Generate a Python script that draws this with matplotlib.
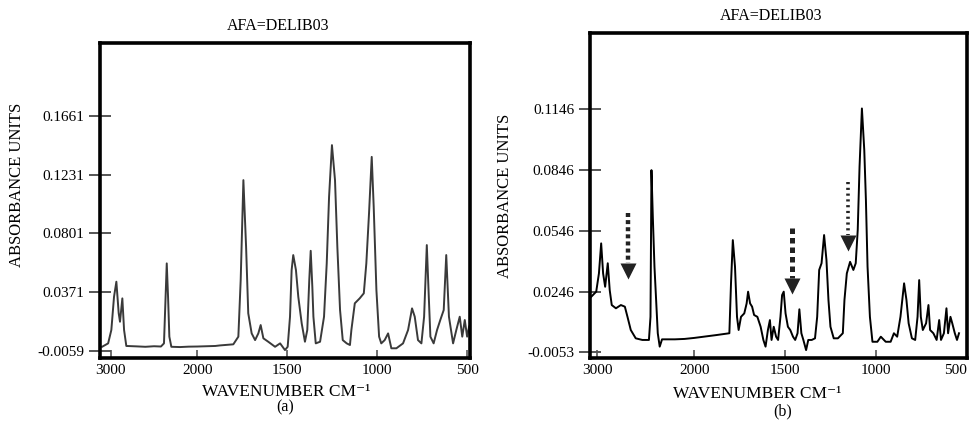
"""
Two FTIR absorbance spectra, AFA=DELIB03, panels (a) and (b)
"""
import numpy as np
import matplotlib
matplotlib.use("Agg")
import matplotlib.pyplot as plt

plt.rcParams["font.family"] = ["Liberation Serif", "DejaVu Serif"]

# %%
# Spectrum (a)
wn_a = [3100, 3030, 2993, 2962, 2935, 2908, 2893, 2866, 2846, 2820, 2700, 2600,
        2500, 2420, 2385, 2353, 2338, 2323, 2300, 2200, 2100, 2000, 1900, 1874,
        1800, 1772, 1759, 1744, 1729, 1717, 1698, 1679, 1661, 1648, 1633, 1606,
        1568, 1540, 1513, 1498, 1485, 1476, 1467, 1452, 1439, 1420, 1402, 1389,
        1378, 1370, 1361, 1355, 1342, 1318, 1296, 1281, 1268, 1252, 1235, 1222,
        1207, 1192, 1170, 1152, 1144, 1125, 1098, 1075, 1061, 1046, 1031, 1020,
        1005, 990, 978, 959, 940, 922, 894, 857, 829, 807, 792, 774, 755, 740,
        725, 714, 705, 687, 668, 650, 631, 617, 602, 579, 561, 542, 528, 514,
        501, 490]
abs_a = [-0.0028, -0.0003, 0.0095, 0.0338, 0.0448, 0.0217, 0.0155, 0.0326, 0.0095,
         -0.0022, -0.0025, -0.0028, -0.0024, -0.0026, -0.0003, 0.0582, 0.0338,
         0.0046, -0.0028, -0.0030, -0.0027, -0.0026, -0.0022, -0.0018, -0.0010,
         0.0046, 0.0460, 0.1191, 0.0703, 0.0217, 0.0070, 0.0021, 0.0070, 0.0131,
         0.0034, 0.0009, -0.0028, -0.0003, -0.0052, -0.0028, 0.0192, 0.0533,
         0.0643, 0.0533, 0.0338, 0.0143, 0.0009, 0.0095, 0.0460, 0.0674, 0.0411,
         0.0192, -0.0003, 0.0009, 0.0192, 0.0582, 0.1069, 0.1447, 0.1191, 0.0703,
         0.0241, 0.0021, -0.0003, -0.0015, 0.0095, 0.0290, 0.0326, 0.0363, 0.0582,
         0.0948, 0.1361, 0.0996, 0.0387, 0.0046, -0.0003, 0.0021, 0.0070, -0.0039,
         -0.0039, -0.0003, 0.0095, 0.0253, 0.0192, 0.0021, -0.0003, 0.0192, 0.0716,
         0.0338, 0.0046, -0.0003, 0.0095, 0.0168, 0.0241, 0.0643, 0.0192, -0.0003,
         0.0095, 0.0192, 0.0046, 0.0168, 0.0046, 0.0120]

# Spectrum (b)
wn_b = [3061, 3010, 2982, 2959, 2939, 2918, 2891, 2871, 2850, 2807, 2756, 2715,
        2688, 2654, 2603, 2535, 2467, 2451, 2441, 2427, 2410, 2393, 2376, 2356,
        2332, 2200, 2100, 2000, 1879, 1807, 1798, 1788, 1776, 1765, 1756, 1743,
        1725, 1712, 1704, 1693, 1682, 1671, 1653, 1635, 1620, 1608, 1595, 1584,
        1575, 1563, 1550, 1539, 1526, 1517, 1508, 1498, 1485, 1472, 1457, 1445,
        1432, 1422, 1411, 1400, 1385, 1373, 1354, 1336, 1324, 1313, 1300, 1286,
        1273, 1262, 1251, 1233, 1210, 1183, 1174, 1161, 1143, 1125, 1112, 1101,
        1091, 1078, 1065, 1056, 1047, 1034, 1020, 993, 974, 947, 920, 902, 884,
        866, 846, 833, 821, 803, 785, 772, 763, 754, 743, 725, 712, 703, 685,
        667, 653, 643, 627, 613, 604, 591, 581, 567, 555, 544]
abs_b = [0.0221, 0.0246, 0.0336, 0.0484, 0.0336, 0.0270, 0.0386, 0.0254, 0.0180,
         0.0164, 0.0180, 0.0172, 0.0122, 0.0057, 0.0016, 0.0008, 0.0008, 0.0122,
         0.0845, 0.0615, 0.0369, 0.0205, 0.0041, -0.0025, 0.0011, 0.0011, 0.0013,
         0.0018, 0.0032, 0.0041, 0.0287, 0.0500, 0.0369, 0.0122, 0.0057, 0.0122,
         0.0139, 0.0188, 0.0246, 0.0188, 0.0172, 0.0131, 0.0122, 0.0073, 0.0008,
         -0.0025, 0.0057, 0.0106, 0.0008, 0.0073, 0.0024, 0.0008, 0.0122, 0.0229,
         0.0246, 0.0139, 0.0073, 0.0057, 0.0024, 0.0008, 0.0041, 0.0159, 0.0041,
         0.0008, -0.0042, 0.0008, 0.0008, 0.0016, 0.0122, 0.0353, 0.0386, 0.0525,
         0.0402, 0.0205, 0.0073, 0.0016, 0.0016, 0.0041, 0.0205, 0.0336, 0.0393,
         0.0353, 0.0386, 0.0550, 0.0862, 0.1149, 0.0944, 0.0698, 0.0369, 0.0122,
         -0.0001, -0.0001, 0.0024, -0.0001, -0.0001, 0.0041, 0.0024, 0.0122,
         0.0287, 0.0205, 0.0090, 0.0016, 0.0008, 0.0122, 0.0303, 0.0122, 0.0057,
         0.0090, 0.0180, 0.0057, 0.0041, 0.0008, 0.0106, 0.0008, 0.0041, 0.0164,
         0.0041, 0.0122, 0.0090, 0.0041, 0.0008, 0.0041]

xticks = [3000, 2000, 1500, 1000, 500]
yticks_a = [-0.0059, 0.0371, 0.0801, 0.1231, 0.1661]
yticks_b = [-0.0053, 0.0246, 0.0546, 0.0846, 0.1146]

# Dashed arrows in (b): position, top of the shaft, base of the head, tip
arrow_wn = [2681, 1463, 1156]
arrow_top = [0.0633, 0.0558, 0.0788]
arrow_base = [0.0387, 0.0312, 0.0525]
arrow_tip = [0.0313, 0.0238, 0.0451]
arrow_ls = [(0, (0.9, 0.7)), (0, (1.1, 0.8)), (0, (0.6, 1.0))]
arrow_lw = [3.2, 3.6, 2.6]


# %%
# FTIR-style axis: range above 2000 cm-1 is compressed
def split_scale(k):
    def fwd(x):
        x = np.asarray(x, dtype=float)
        return np.where(x > 2000, 2000 + (x - 2000) * k, x)

    def inv(c):
        c = np.asarray(c, dtype=float)
        return np.where(c > 2000, 2000 + (c - 2000) / k, c)

    return fwd, inv


def style_axes(ax, k, xlim, ylim, yticks):
    ax.set_xscale("function", functions=split_scale(k))
    ax.set_xlim(*xlim)
    ax.set_ylim(*ylim)
    ax.set_xticks(xticks)
    ax.set_xticklabels([str(t) for t in xticks])
    ax.set_yticks(yticks)
    ax.set_yticklabels([f"{t:.4f}" for t in yticks])
    ax.minorticks_off()
    for s in ax.spines.values():
        s.set_linewidth(2.6)
        s.set_color("black")
    ax.tick_params(axis="y", direction="inout", length=16, width=1.4,
                   color="#555555", pad=3, labelsize=11)
    ax.tick_params(axis="x", direction="in", length=6, width=1.2,
                   color="#555555", pad=4, labelsize=11)
    ax.set_title("AFA=DELIB03", fontsize=11.5, x=0.48, pad=9)
    ax.set_ylabel("ABSORBANCE UNITS", fontsize=12)
    ax.set_xlabel("WAVENUMBER CM\u207b\u00b9", fontsize=12.5, va="top")


fig = plt.figure(figsize=(9.76, 4.26), dpi=100)

ax_a = fig.add_axes([100 / 976, 68 / 426, 370 / 976, 315 / 426])
ax_a.plot(wn_a, abs_a, color="#3a3a3a", lw=1.4)
style_axes(ax_a, 0.481, (3124, 485), (-0.011, 0.2194), yticks_a)
ax_a.yaxis.set_label_coords(-0.203, 0.551)
ax_a.xaxis.set_label_coords(0.503, -0.083)

ax_b = fig.add_axes([590 / 976, 68 / 426, 377 / 976, 325 / 426])
ax_b.plot(wn_b, abs_b, color="black", lw=1.4)
style_axes(ax_b, 0.534, (3074, 538), (-0.0081, 0.1521), yticks_b)
ax_b.yaxis.set_label_coords(-0.204, 0.498)
ax_b.xaxis.set_label_coords(0.444, -0.086)
# the last label sits against the figure edge
ax_b.get_xticklabels()[-1].set_horizontalalignment("right")

for x, y0, y1, y2, ls, lw in zip(arrow_wn, arrow_top, arrow_base, arrow_tip,
                                 arrow_ls, arrow_lw):
    ax_b.plot([x, x], [y0, y1], color="#222222", lw=lw, ls=ls)
    ax_b.plot(x, (y1 + y2) / 2, marker="v", ms=11, color="#222222", mec="none")

fig.text(285 / 976, 1 - 407 / 426, "(a)", ha="center", va="center", fontsize=11.5)
fig.text(783 / 976, 1 - 411 / 426, "(b)", ha="center", va="center", fontsize=11.5)

fig.savefig("out.png", dpi=100)
